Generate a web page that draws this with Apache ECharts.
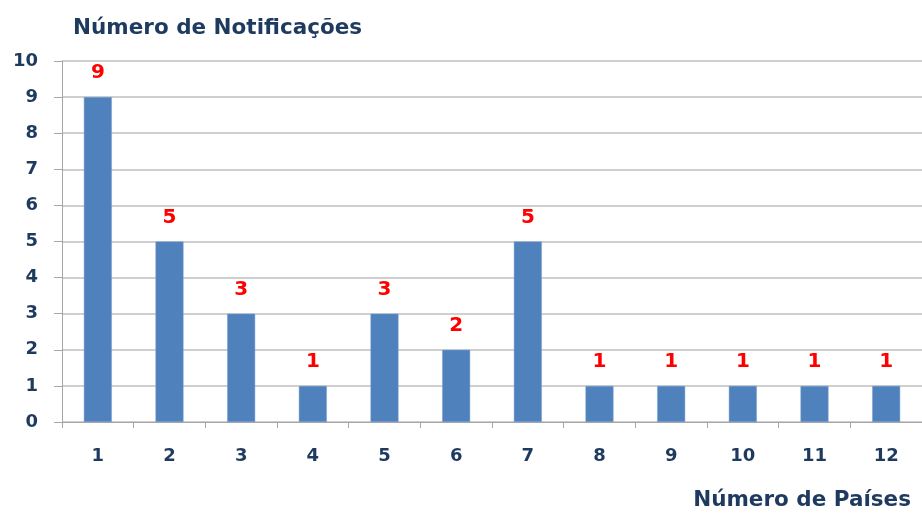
<!DOCTYPE html>
<html><head><meta charset="utf-8">
<script src="https://cdn.jsdelivr.net/npm/echarts@6/dist/echarts.min.js"></script>
<style>html,body{margin:0;padding:0;background:#fff}#c{width:922px;height:514px}</style>
</head><body><div id="c"></div>
<script>
const categories = ['1','2','3','4','5','6','7','8','9','10','11','12'];
const values = [9,5,3,1,3,2,5,1,1,1,1,1];
const yTicks = [0,1,2,3,4,5,6,7,8,9,10];
const titleText = 'Número de Notificações';
const xName = 'Número de Países';

const font = '"DejaVu Sans", sans-serif';
const dark = '#1F3A5F';
const chart = echarts.init(document.getElementById('c'));
chart.setOption({
  animation: false,
  title: {
    text: titleText, left: 68, top: 12, padding: [5, 5, 5, 5],
    textStyle: {fontFamily: font, fontWeight: 'bold', fontSize: 21.5, color: dark}
  },
  grid: {left: 62, top: 61, width: 864, height: 361, containLabel: false},
  xAxis: {
    type: 'category', data: categories,
    name: xName, nameLocation: 'end', nameGap: 0,
    nameTextStyle: {fontFamily: font, fontWeight: 'bold', fontSize: 21.5, color: dark,
      align: 'right', verticalAlign: 'top', padding: [67, 11, 0, 0]},
    axisLine: {lineStyle: {color: '#A6A6A6', width: 1}},
    axisTick: {show: true, length: 6, lineStyle: {color: '#A6A6A6'}},
    axisLabel: {margin: 25, fontFamily: font, fontWeight: 'bold', fontSize: 18, color: dark}
  },
  yAxis: {
    type: 'value', min: 0, max: 10, interval: 1,
    axisLine: {show: true, lineStyle: {color: '#A6A6A6', width: 1}},
    axisTick: {show: true, length: 8, lineStyle: {color: '#A6A6A6'}},
    splitLine: {lineStyle: {color: '#BFBFBF', width: 1.5}},
    axisLabel: {margin: 24, fontFamily: font, fontWeight: 'bold', fontSize: 18, color: dark,
      formatter: v => yTicks.includes(v) ? String(v) : ''}
  },
  series: [{
    type: 'bar', data: values, barWidth: 28,
    itemStyle: {color: '#4F81BD', borderColor: '#7EA3D0', borderWidth: 0.5},
    label: {show: true, position: 'top', distance: 14, fontFamily: font, fontWeight: 'bold',
      fontSize: 20, color: '#FF0000'}
  }]
});
</script></body></html>
